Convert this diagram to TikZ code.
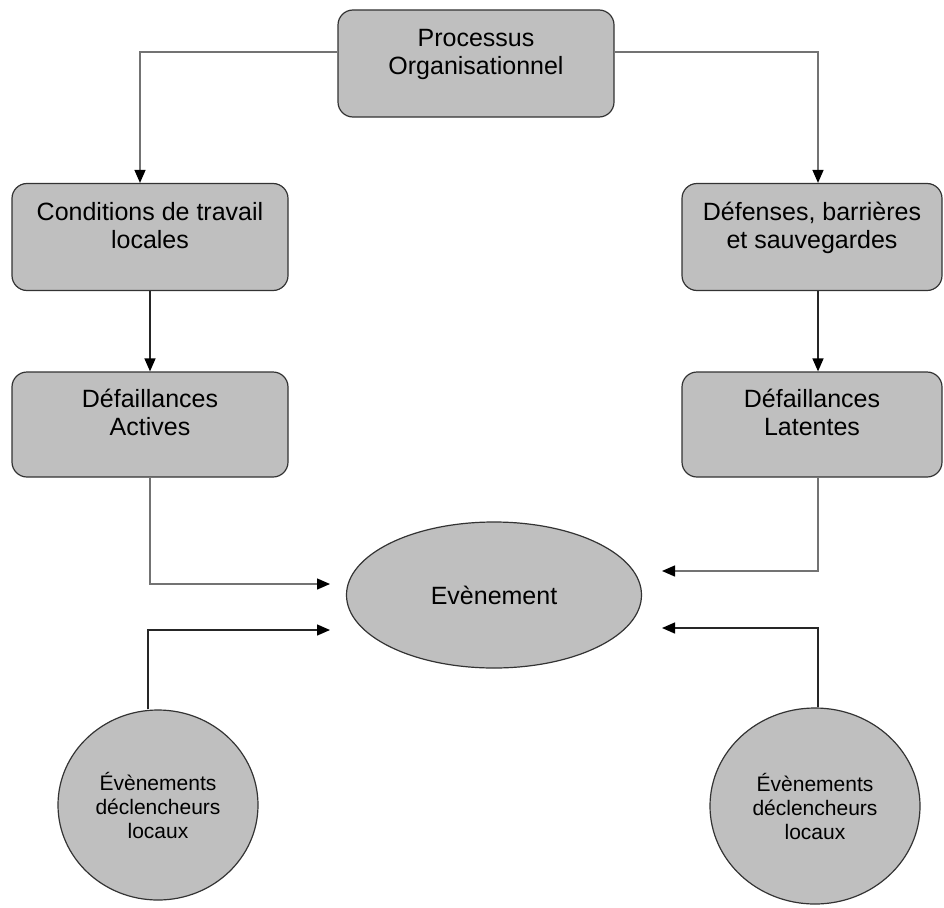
\documentclass[tikz,border=0pt]{standalone}
\usepackage{fontspec}
\setmainfont{Liberation Sans}
\usepackage{tikz}
\usetikzlibrary{shapes.geometric}
\usetikzlibrary{arrows.meta}

\begin{document}
\begin{tikzpicture}[x=1pt,y=-1pt,
	box/.style={draw=black!80,fill=black!25,rounded corners=15pt,line width=1.2pt,
		minimum width=276pt,minimum height=107pt,align=center,text depth=24pt,
		font=\fontsize{25}{28}\selectfont},
	evt/.style={ellipse,draw=black!80,fill=black!25,line width=1.2pt,inner sep=0pt,
		align=center},
	link/.style={line width=1.4pt,draw=black!85,-{Triangle[length=13pt,width=11pt,color=black]}},
	glink/.style={link,draw=black!55}]
	\useasboundingbox (0,0) rectangle (944,907);

	\node[box] (proc) at (476,63.5) {Processus\\Organisationnel};
	\node[box] (cond) at (150,237) {Conditions de travail\\locales};
	\node[box,minimum width=260pt] (def) at (812,237) {Défenses, barrières\\et sauvegardes};
	\node[box,minimum height=105pt] (act) at (150,424.5) {Défaillances\\Actives};
	\node[box,minimum width=260pt,minimum height=105pt] (lat) at (812,424.5) {Défaillances\\Latentes};

	\node[evt,minimum width=295pt,minimum height=146pt,font=\fontsize{25}{28}\selectfont] (evt) at (494,595) {Evènement};
	\node[evt,minimum width=200pt,minimum height=190pt,font=\fontsize{21}{24}\selectfont] (trigL) at (158,805) {Évènements\\déclencheurs\\locaux};
	\node[evt,minimum width=210pt,minimum height=196pt,font=\fontsize{21}{24}\selectfont] (trigR) at (815,806) {Évènements\\déclencheurs\\locaux};

	\coordinate (inA) at (330,584);
	\coordinate (inB) at (330,630);
	\coordinate (inC) at (662,571);
	\coordinate (inD) at (662,628);

	\draw[glink] ([yshift=11.5pt]proc.west) -| ([xshift=-10pt]cond.north);
	\draw[glink] ([yshift=11.5pt]proc.east) -| ([xshift=6pt]def.north);
	\draw[link] (cond) -- (act);
	\draw[link] ([xshift=6pt]def.south) -- ([xshift=6pt]lat.north);
	\draw[glink] (act.south) |- (inA);
	\draw[link] ([xshift=-10pt]trigL.north) |- (inB);
	\draw[glink] ([xshift=6pt]lat.south) |- (inC);
	\draw[link] ([xshift=3pt]trigR.north) |- (inD);

\end{tikzpicture}
\end{document}
